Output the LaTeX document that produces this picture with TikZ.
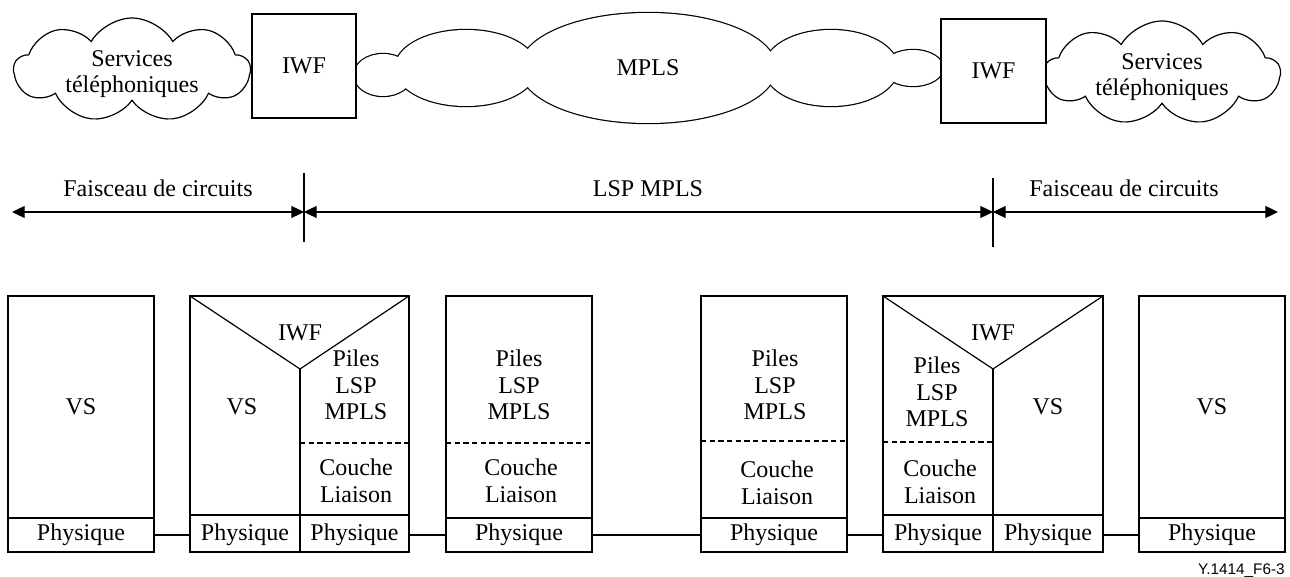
\documentclass[tikz,border=0pt]{standalone}
\usepackage{fontspec}
\setmainfont{Liberation Serif}
\newfontfamily\labelfont{Liberation Sans}
\usetikzlibrary{shapes.symbols,arrows.meta}
\def\px{0.75pt}
\begin{document}
\begin{tikzpicture}[x=0.75pt,y=-0.75pt,
  every node/.style={font=\fontsize{18}{20}\selectfont, align=center, inner sep=0pt},
  ln/.style={line width=0.9pt},
  cell/.style={draw, line width=0.9pt, inner sep=0pt},
  dsh/.style={line width=0.9pt, dash pattern=on 4pt off 2.5pt},
  puff/.style={cloud, cloud puffs=9, cloud puff arc=120, cloud ignores aspect, draw, line width=0.9pt,
               minimum width=236*\px, minimum height=104*\px},
  dim/.style={line width=0.9pt, {Triangle[length=9.5pt,width=9pt]}-{Triangle[length=9.5pt,width=9pt]}},
  ]
\useasboundingbox (0,0) rectangle (1290,577);

% ---------- top row ----------
\node[puff] (svc1) at (132,70) {};
\node (svc1t) at (132,74) {Services\\téléphoniques};
\node[puff] (svc2) at (1162,73) {};
\node (svc2t) at (1162,77) {Services\\téléphoniques};

% MPLS cloud made of overlapping ellipses
\foreach \cx/\cy/\rx/\ry in {383/75/29/21, 466/68/71/38, 648/68/128/55, 831/68/67/38, 913/68/30/18}
  \draw[line width=1.8pt] (\cx,\cy) ellipse [x radius=\rx*\px, y radius=\ry*\px];
\foreach \cx/\cy/\rx/\ry in {383/75/29/21, 466/68/71/38, 648/68/128/55, 831/68/67/38, 913/68/30/18}
  \fill[white] (\cx,\cy) ellipse [x radius=\rx*\px, y radius=\ry*\px];
\node (mpls) at (648,68) {MPLS};

\node[cell, fill=white, minimum width=104*\px, minimum height=104*\px] (iwf1) at (304,66) {IWF};
\node[cell, fill=white, minimum width=105*\px, minimum height=104*\px] (iwf2) at (993.5,71) {IWF};

% ---------- middle row ----------
\coordinate (a0) at (12,212);
\coordinate (a1) at (304,212);
\coordinate (a2) at (993,212);
\coordinate (a3) at (1278,212);
\coordinate (v1t) at (304,173);
\coordinate (v1b) at (304,242);
\coordinate (v2t) at (993,178);
\coordinate (v2b) at (993,247);
\draw[dim] (a0) -- (a1);
\draw[dim] (a1) -- (a2);
\draw[dim] (a2) -- (a3);
\draw[ln] (v1t) -- (v1b);
\draw[ln] (v2t) -- (v2b);
\node[anchor=base] (f1) at (158,197) {Faisceau de circuits};
\node[anchor=base] (lsp) at (648,197) {LSP MPLS};
\node[anchor=base] (f2) at (1124,197) {Faisceau de circuits};

% ---------- bottom row ----------
% Box 1
\node[cell, minimum width=146*\px, minimum height=222*\px] (u1) at (81,407) {};
\node[anchor=base] (vs1) at (81,415) {VS};
\node[cell, minimum width=146*\px, minimum height=34*\px] (p1) at (81,535) {Physique};

% Box 2
\coordinate (b2tl) at (190,296);
\coordinate (b2tr) at (409,296);
\coordinate (b2v) at (300,369);
\coordinate (b2m) at (300,515);
\draw[ln] (190,296) rectangle (409,515);
\draw[ln] (b2tl) -- (b2v) -- (b2tr);
\draw[ln] (b2v) -- (b2m);
\draw[dsh] (300,443) -- (409,443);
\node[anchor=base] (iwf3) at (300,341) {IWF};
\node[anchor=base] (vs2) at (242,415) {VS};
\node (pl2) at (356,385) {Piles\\LSP\\MPLS};
\node (cl2) at (356,481) {Couche\\Liaison};
\node[cell, minimum width=110*\px, minimum height=37*\px] (p2a) at (245,533.5) {};
\node[cell, minimum width=109*\px, minimum height=37*\px] (p2b) at (354.5,533.5) {};
\node[anchor=base] (p2at) at (245,540) {Physique};
\node[anchor=base] (p2bt) at (354.5,540) {Physique};

% Box 3
\node[cell, minimum width=146*\px, minimum height=222*\px] (u3) at (519,407) {};
\draw[dsh] (446,443) -- (592,443);
\node (pl3) at (519,385) {Piles\\LSP\\MPLS};
\node (cl3) at (521,481) {Couche\\Liaison};
\node[cell, minimum width=146*\px, minimum height=34*\px] (p3) at (519,535) {Physique};

% Box 4
\node[cell, minimum width=146*\px, minimum height=222*\px] (u4) at (774,407) {};
\draw[dsh] (701,441) -- (847,441);
\node (pl4) at (775,385) {Piles\\LSP\\MPLS};
\node (cl4) at (777,483) {Couche\\Liaison};
\node[cell, minimum width=146*\px, minimum height=34*\px] (p4) at (774,535) {Physique};

% Box 5
\coordinate (b5tl) at (883,296);
\coordinate (b5tr) at (1103,296);
\coordinate (b5v) at (993,369);
\coordinate (b5m) at (993,515);
\draw[ln] (883,296) rectangle (1103,515);
\draw[ln] (b5tl) -- (b5v) -- (b5tr);
\draw[ln] (b5v) -- (b5m);
\draw[dsh] (883,442) -- (993,442);
\node[anchor=base] (iwf4) at (993,341) {IWF};
\node (pl5) at (937,392) {Piles\\LSP\\MPLS};
\node (cl5) at (940,482) {Couche\\Liaison};
\node[anchor=base] (vs5) at (1048,415) {VS};
\node[cell, minimum width=110*\px, minimum height=37*\px] (p5a) at (938,533.5) {};
\node[cell, minimum width=110*\px, minimum height=37*\px] (p5b) at (1048,533.5) {};
\node[anchor=base] (p5at) at (938,540) {Physique};
\node[anchor=base] (p5bt) at (1048,540) {Physique};

% Box 6
\node[cell, minimum width=146*\px, minimum height=222*\px] (u6) at (1212,407) {};
\node[anchor=base] (vs6) at (1212,415) {VS};
\node[cell, minimum width=146*\px, minimum height=34*\px] (p6) at (1212,535) {Physique};

% connectors
\draw[ln] (p1.east) -- (p1.east -| p2a.west);
\draw[ln] (p2b.east |- p3.west) -- (p3.west);
\draw[ln] (p3.east) -- (p3.east -| p4.west);
\draw[ln] (p4.east) -- (p4.east -| p5a.west);
\draw[ln] (p5b.east |- p6.west) -- (p6.west);

\node[anchor=base east, font=\labelfont\fontsize{11.5}{13}\selectfont] (fig) at (1285,574) {Y.1414\_F6-3};
\end{tikzpicture}
\end{document}
